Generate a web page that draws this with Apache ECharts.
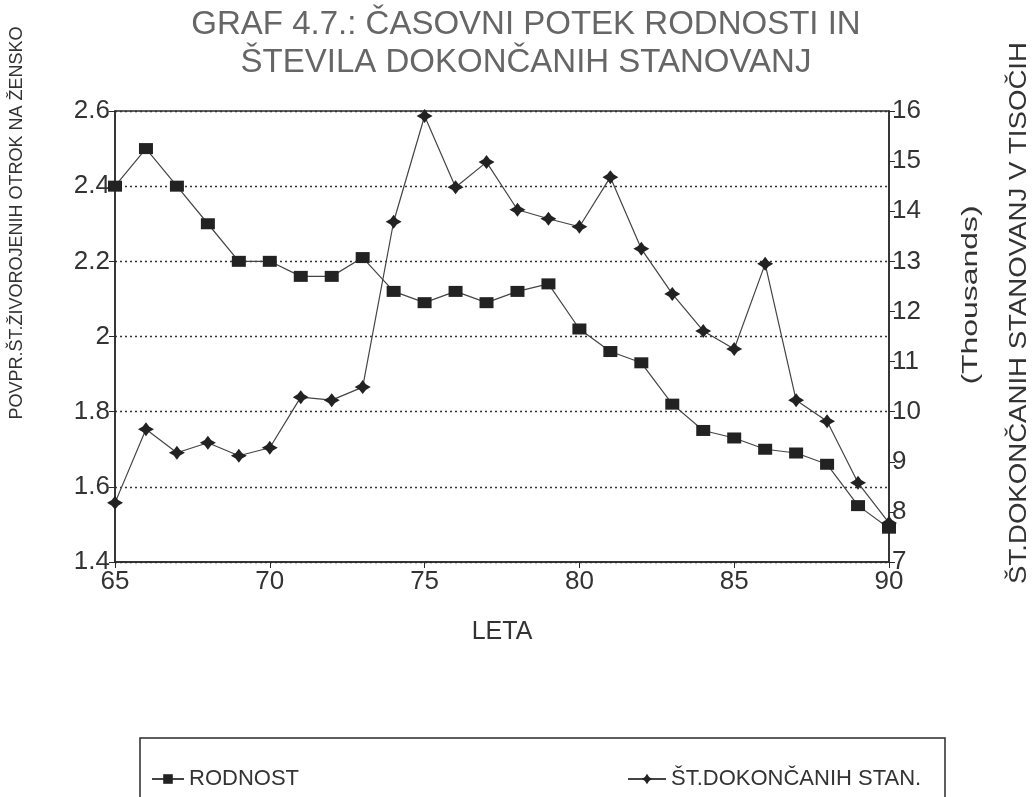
<!DOCTYPE html>
<html>
<head>
<meta charset="utf-8">
<script src="https://cdn.jsdelivr.net/npm/echarts@6/dist/echarts.min.js"></script>
<style>
  html, body { margin: 0; padding: 0; background: #fff; }
  #chart { width: 1035px; height: 797px; }
</style>
</head>
<body>
<div id="chart"></div>
<script>
// leta 65..90
const years = [65, 66, 67, 68, 69, 70, 71, 72, 73, 74, 75, 76, 77,
               78, 79, 80, 81, 82, 83, 84, 85, 86, 87, 88, 89, 90];
// povprečno št. živorojenih otrok na žensko
const rodnost = [2.40, 2.50, 2.40, 2.30, 2.20, 2.20, 2.16, 2.16, 2.21, 2.12, 2.09, 2.12, 2.09,
                 2.12, 2.14, 2.02, 1.96, 1.93, 1.82, 1.75, 1.73, 1.70, 1.69, 1.66, 1.55, 1.49];
// dokončana stanovanja (v tisočih)
const stanovanja = [8.18, 9.65, 9.18, 9.38, 9.12, 9.28, 10.29, 10.23, 10.49, 13.79, 15.9, 14.48, 14.98,
                    14.03, 13.85, 13.69, 14.68, 13.25, 12.35, 11.61, 11.25, 12.95, 10.23, 9.81, 8.58, 7.78];
const xTicks = [65, 70, 75, 80, 85, 90];
const leftTicks = [1.4, 1.6, 1.8, 2, 2.2, 2.4, 2.6];
const rightTicks = [7, 8, 9, 10, 11, 12, 13, 14, 15, 16];

const nameRod = 'RODNOST';
const nameStan = 'ŠT.DOKONČANIH STAN.';
const font = 'Liberation Sans, Arial, sans-serif';
const ink = '#2a2a2a';
const star = 'path://M0,-10 L4,-4 L10,0 L4,4 L0,10 L-4,4 L-10,0 L-4,-4 Z';

const chart = echarts.init(document.getElementById('chart'));

chart.setOption({
  animation: false,
  backgroundColor: '#fff',
  textStyle: { fontFamily: font },
  title: {
    text: 'GRAF 4.7.: ČASOVNI POTEK RODNOSTI IN\nŠTEVILA DOKONČANIH STANOVANJ',
    left: 521,
    textAlign: 'center',
    top: 1,
    textStyle: { fontSize: 33, fontWeight: 'normal', color: '#666', lineHeight: 38, fontFamily: font }
  },
  grid: {
    left: 115, right: 146, top: 111, bottom: 235,
    show: true, borderColor: ink, borderWidth: 1.5
  },
  legend: [
    {
      data: [nameRod], left: 146, top: 763,
      itemWidth: 32, itemHeight: 12, itemGap: 0,
      textStyle: { fontSize: 22, color: '#333', fontFamily: font }
    },
    {
      data: [nameStan], left: 622, top: 763,
      itemWidth: 38, itemHeight: 13, itemGap: 0,
      textStyle: { fontSize: 22, color: '#333', fontFamily: font }
    }
  ],
  xAxis: {
    type: 'value', min: 65, max: 90, interval: 5,
    name: 'LETA', nameLocation: 'middle', nameGap: 58,
    nameTextStyle: { fontSize: 25, color: '#333' },
    axisLine: { lineStyle: { color: ink, width: 1.5 } },
    axisTick: { show: true, length: 6, lineStyle: { color: ink } },
    axisLabel: { fontSize: 26, color: '#333', margin: 7,
      formatter: v => xTicks.includes(v) ? String(v) : '' },
    splitLine: { show: false }
  },
  yAxis: [
    {
      type: 'value', min: 1.4, max: 2.6, interval: 0.2, position: 'left',
      axisLine: { show: true, lineStyle: { color: ink, width: 1.5 } },
      axisTick: { show: true, length: 6, lineStyle: { color: ink } },
      axisLabel: { fontSize: 26, color: '#333', margin: 5,
        formatter: v => {
          const t = leftTicks.find(x => Math.abs(x - v) < 1e-6);
          return t === undefined ? '' : String(t);
        } },
      splitLine: { show: true, lineStyle: { color: '#333', type: [2, 3], width: 1.3 } }
    },
    {
      type: 'value', min: 7, max: 16, interval: 1, position: 'right',
      axisLine: { show: true, lineStyle: { color: ink, width: 1.5 } },
      axisTick: { show: true, length: 6, lineStyle: { color: ink } },
      axisLabel: { fontSize: 26, color: '#333', margin: 3,
        formatter: v => rightTicks.includes(v) ? String(v) : '' },
      splitLine: { show: false }
    }
  ],
  graphic: [
    {
      type: 'text', x: 17, y: 223, rotation: Math.PI / 2,
      style: { text: 'POVPR.ŠT.ŽIVOROJENIH OTROK NA ŽENSKO', fontSize: 18, fill: '#333',
        fontFamily: font, align: 'center', verticalAlign: 'middle' }
    },
    {
      type: 'text', x: 1020, y: 313, rotation: Math.PI / 2, scaleX: 1.2,
      style: { text: 'ŠT.DOKONČANIH STANOVANJ V TISOČIH', fontSize: 23, fill: '#333',
        fontFamily: font, align: 'center', verticalAlign: 'middle' }
    },
    {
      type: 'text', x: 971, y: 295, rotation: Math.PI / 2, scaleX: 1.45,
      style: { text: '(Thousands)', fontSize: 22, fill: '#333',
        fontFamily: font, align: 'center', verticalAlign: 'middle' }
    },
    {
      type: 'rect', shape: { x: 140, y: 738, width: 805, height: 80 },
      style: { fill: 'none', stroke: ink, lineWidth: 1.5 }
    }
  ],
  series: [
    {
      name: nameRod, type: 'line', yAxisIndex: 0,
      data: years.map((y, i) => [y, rodnost[i]]),
      symbol: 'rect', symbolSize: [14, 11],
      itemStyle: { color: '#222' },
      lineStyle: { color: '#444', width: 1.2 }
    },
    {
      name: nameStan, type: 'line', yAxisIndex: 1,
      data: years.map((y, i) => [y, stanovanja[i]]),
      symbol: star, symbolSize: [16, 14],
      itemStyle: { color: '#222' },
      lineStyle: { color: '#444', width: 1.2 }
    }
  ]
});
</script>
</body>
</html>
